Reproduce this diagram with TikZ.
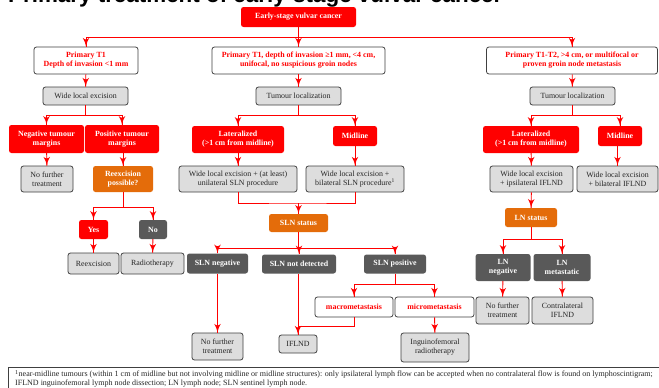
\documentclass[tikz,border=0pt]{standalone}
\usepackage{fontspec}
\setmainfont{Liberation Serif}
\newfontfamily\titlefont{Liberation Sans}
\usetikzlibrary{arrows}
\usetikzlibrary{decorations.markings}
\definecolor{vred}{HTML}{FF0000}
\definecolor{dgray}{HTML}{404040}
\definecolor{lgray}{HTML}{DDDDDD}
\definecolor{mgray}{HTML}{595959}
\definecolor{orng}{HTML}{E46C0A}
\definecolor{ink}{HTML}{262626}
\tikzset{sz/.style 2 args = {minimum width=#1, minimum height=#2},
         box/.style = {rounded corners=2.5pt, align=center, inner sep=1pt},
         redbox/.style = {box, fill=vred, text=white,
                          font=\fontsize{7.9}{9}\selectfont\bfseries},
         outbox/.style = {box, draw=dgray, line width=0.8pt, fill=white, text=vred,
                          font=\fontsize{7.9}{9}\selectfont\bfseries},
         graybox/.style = {box, draw=dgray, line width=0.8pt, fill=lgray, text=ink,
                           font=\fontsize{7.9}{9}\selectfont},
         darkbox/.style = {box, fill=mgray, text=white,
                           font=\fontsize{7.9}{9}\selectfont\bfseries},
         orangebox/.style = {box, fill=orng, text=white,
                             font=\fontsize{7.9}{9}\selectfont\bfseries},
         link/.style = {draw=vred, line width=0.9pt},
         arr/.style = {link, decoration={markings,
                                         mark=at position 1 with {\arrow[scale=1.6]{latex'}}},
                       postaction={decorate}}}

\begin{document}
\begin{tikzpicture}[x=1pt, y=-1pt]
      \useasboundingbox [fill=white] (0, 0) rectangle (659, 388);

      \node [anchor=base west, inner sep=0, font=\titlefont\bfseries\fontsize{22.4}{26}\selectfont]
            (title) at (8, 2) {Primary treatment of early-stage vulvar cancer};

      \node [redbox, sz={115}{20}] (cancer) at (298.5, 17) {Early-stage vulvar cancer};

      \node [outbox, sz={104}{27}] (tone) at (86, 60.5) {Primary T1\\Depth of invasion <1 mm};
      \node [outbox, sz={173}{27}] (ttwo) at (298.5, 60.5) {Primary T1, depth of invasion ≥1 mm, <4 cm,\\unifocal, no suspicious groin nodes};
      \node [outbox, sz={171}{27}] (tthree) at (572, 60.5) {Primary T1-T2, >4 cm, or multifocal or\\proven groin node metastasis};

      \node [graybox, sz={85}{18}] (excision) at (85.5, 96) {Wide local excision};
      \node [graybox, sz={85}{18}] (locmid) at (298.5, 96) {Tumour localization};
      \node [graybox, sz={85}{18}] (locright) at (572.5, 96) {Tumour localization};

      \node [redbox, sz={75}{28}] (negmargin) at (46.5, 139) {Negative tumour\\margins};
      \node [redbox, sz={74}{28}] (posmargin) at (122, 139) {Positive tumour\\margins};
      \node [redbox, sz={92}{27}] (latmid) at (238, 139.5) {Lateralized\\(>1 cm from midline)};
      \node [redbox, sz={44}{20}] (midmid) at (355, 136) {Midline};
      \node [redbox, sz={96}{27}] (latright) at (531, 139.5) {Lateralized\\(>1 cm from midline)};
      \node [redbox, sz={44}{20}] (midright) at (620, 136) {Midline};

      \node [graybox, sz={52}{26}] (nofurthera) at (47, 179) {No further\\treatment};
      \node [orangebox, sz={60}{26}] (possible) at (123, 179) {Reexcision\\possible?};
      \node [graybox, sz={118}{26}] (unisln) at (238, 179) {Wide local excision + (at least)\\unilateral SLN procedure};
      \node [graybox, sz={98}{26}] (bisln) at (355, 179) {Wide local excision +\\bilateral SLN procedure\textsuperscript{1}};
      \node [graybox, sz={83}{26}] (ipsi) at (531.5, 179) {Wide local excision\\+ ipsilateral IFLND};
      \node [graybox, sz={81}{26}] (bilat) at (617.5, 179) {Wide local excision\\+ bilateral IFLND};

      \node [orangebox, sz={59}{18}] (slnstatus) at (298.5, 223) {SLN status};
      \node [orangebox, sz={52}{19}] (lnstatus) at (531, 217.5) {LN status};

      \node [redbox, sz={29}{19}] (yes) at (93.5, 229.5) {Yes};
      \node [darkbox, sz={28}{19}] (no) at (153, 229.5) {No};

      \node [graybox, sz={51}{21}] (reexcision) at (93.5, 263.5) {Reexcision};
      \node [graybox, sz={63}{21}] (radio) at (152.5, 263.5) {Radiotherapy};
      \node [darkbox, sz={61}{20}] (slnneg) at (217.5, 263.5) {SLN negative};
      \node [darkbox, sz={74}{19}] (slnnd) at (299, 264) {SLN not detected};
      \node [darkbox, sz={62}{19}] (slnpos) at (395, 264) {SLN positive};
      \node [darkbox, sz={55}{27}] (lnneg) at (503, 267.5) {LN\\negative};
      \node [darkbox, sz={57}{27}] (lnmet) at (562, 267.5) {LN\\metastatic};

      \node [outbox, sz={78}{20}] (macro) at (354, 307) {macrometastasis};
      \node [outbox, sz={79}{20}] (micro) at (434.5, 307) {micrometastasis};
      \node [graybox, sz={53}{27}] (nofurtherc) at (502.5, 310.5) {No further\\treatment};
      \node [graybox, sz={61}{27}] (contra) at (562.5, 310.5) {Contralateral\\IFLND};

      \node [graybox, sz={51}{27}] (nofurtherb) at (217.5, 346.5) {No further\\treatment};
      \node [graybox, sz={38}{18}] (iflnd) at (298, 344) {IFLND};
      \node [graybox, sz={68}{29}] (inguino) at (435, 347.5) {Inguinofemoral\\radiotherapy};

      \draw [dgray, line width=0.8pt] (8, 367) rectangle (670, 400);
      \node [anchor=north west, inner sep=0, align=left, text=ink,
             font=\fontsize{8}{9}\selectfont] (note) at (15, 370)
            {\textsuperscript{1}near-midline tumours (within 1 cm of midline but not involving midline or midline structures): only ipsilateral lymph flow can be accepted when no contralateral flow is found on lymphoscintigram;\\
             IFLND inguinofemoral lymph node dissection; LN lymph node; SLN sentinel lymph node.};

      \coordinate (split) at (298.5, 37);
      \draw [link] (cancer) -- (split);
      \draw [arr] (split) -| (tone);
      \draw [arr] (split) -- (ttwo);
      \draw [arr] (split) -| (tthree);

      \draw [arr] (tone) -- (excision);
      \draw [arr] (ttwo) -- (locmid);
      \draw [arr] (tthree) -- (locright);

      \draw [arr] (excision.south) -- ++(0, 10) -| (negmargin);
      \draw [arr] (excision.south) -- ++(0, 10) -| (posmargin);
      \draw [arr] (locmid.south) -- ++(0, 10) -| (latmid);
      \draw [arr] (locmid.south) -- ++(0, 10) -| (midmid);
      \draw [arr] (locright.south) -- ++(0, 10) -| (latright);
      \draw [arr] (locright.south) -- ++(0, 10) -| (midright);

      \draw [arr] (negmargin) -- (nofurthera);
      \draw [arr] (posmargin.south -| possible) -- (possible);
      \draw [arr] (latmid) -- (unisln);
      \draw [arr] (midmid) -- (bisln);
      \draw [arr] (latright) -- (ipsi);
      \draw [arr] (midright.south -| bilat) -- (bilat);

      \draw [arr] (possible.south) -- ++(0, 15) -| (yes);
      \draw [arr] (possible.south) -- ++(0, 15) -| (no);
      \draw [arr] (yes) -- (reexcision);
      \draw [arr] (no) -- (radio);

      \coordinate (join) at (298.5, 203);
      \draw [link] (unisln.south) |- (join) -| (bisln.south);
      \draw [arr] (join) -- (slnstatus);
      \draw [arr] (slnstatus.south) -- ++(0, 16) -| (slnneg);
      \draw [arr] (slnstatus.south) -- ++(0, 16) -| (slnnd);
      \draw [arr] (slnstatus.south) -- ++(0, 16) -| (slnpos);

      \draw [arr] (slnneg) -- (nofurtherb);
      \draw [arr] (slnnd.south -| iflnd) -- (iflnd);
      \draw [arr] (slnpos.south) -- ++(0, 11) -| (macro);
      \draw [arr] (slnpos.south) -- ++(0, 11) -| (micro);
      \draw [link] (macro.south) -- ++(0, 9) -| (iflnd.north);
      \draw [arr] (micro) -- (inguino);

      \draw [arr] (ipsi) -- (lnstatus);
      \draw [arr] (lnstatus.south) -- ++(0, 12) -| (lnneg);
      \draw [arr] (lnstatus.south) -- ++(0, 12) -| (lnmet);
      \draw [arr] (lnneg) -- (nofurtherc);
      \draw [arr] (lnmet) -- (contra);
    \end{tikzpicture}
\end{document}
